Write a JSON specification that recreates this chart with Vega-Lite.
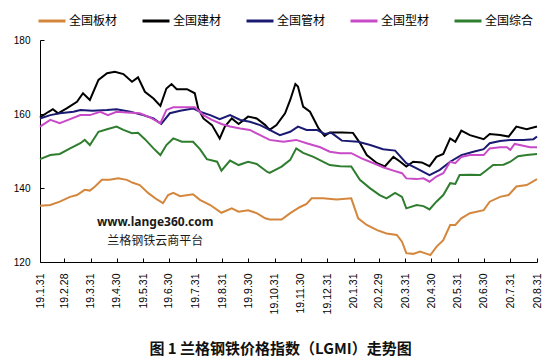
{
"$schema": "https://vega.github.io/schema/vega-lite/v6.json",
"width": 497, "height": 222,
"autosize": {"type": "none"},
"padding": {"left": 40, "top": 40, "right": 22, "bottom": 99},
"background": "white",
"config": {"view": {"stroke": null}, "font": "Noto Sans CJK SC"},
"title": {"text": "图 1 兰格钢铁价格指数（LGMI）走势图", "orient": "bottom", "anchor": "middle", "fontSize": 15, "fontWeight": "bold", "font": "Noto Sans CJK SC", "color": "#111111", "offset": 28, "dx": -8},
"datasets": {
"wm": [{"d": "2019-06-14", "v": 130.8, "t": "www.lange360.com"}, {"d": "2019-06-14", "v": 125.7, "t": "兰格钢铁云商平台"}],
"main": [
{"s":"全国板材","d":"2019-01-31","v":135.2},{"s":"全国板材","d":"2019-02-12","v":135.4},{"s":"全国板材","d":"2019-02-23","v":136.3},{"s":"全国板材","d":"2019-03-07","v":137.6},{"s":"全国板材","d":"2019-03-15","v":138.1},{"s":"全国板材","d":"2019-03-24","v":139.5},{"s":"全国板材","d":"2019-03-30","v":139.3},{"s":"全国板材","d":"2019-04-05","v":140.4},{"s":"全国板材","d":"2019-04-13","v":142.2},{"s":"全国板材","d":"2019-04-22","v":142.2},{"s":"全国板材","d":"2019-05-02","v":142.6},{"s":"全国板材","d":"2019-05-12","v":142.2},{"s":"全国板材","d":"2019-05-19","v":141.4},{"s":"全国板材","d":"2019-05-27","v":140.8},{"s":"全国板材","d":"2019-06-06","v":138.6},{"s":"全国板材","d":"2019-06-16","v":136.9},{"s":"全国板材","d":"2019-06-23","v":135.9},{"s":"全国板材","d":"2019-06-29","v":138.1},{"s":"全国板材","d":"2019-07-05","v":138.7},{"s":"全国板材","d":"2019-07-13","v":137.8},{"s":"全国板材","d":"2019-07-28","v":138.3},{"s":"全国板材","d":"2019-08-05","v":136.8},{"s":"全国板材","d":"2019-08-17","v":135.4},{"s":"全国板材","d":"2019-08-30","v":133.3},{"s":"全国板材","d":"2019-09-11","v":134.5},{"s":"全国板材","d":"2019-09-19","v":133.6},{"s":"全国板材","d":"2019-09-30","v":134.0},{"s":"全国板材","d":"2019-10-10","v":133.2},{"s":"全国板材","d":"2019-10-20","v":131.8},{"s":"全国板材","d":"2019-10-25","v":131.5},{"s":"全国板材","d":"2019-11-08","v":131.5},{"s":"全国板材","d":"2019-11-18","v":133.2},{"s":"全国板材","d":"2019-11-29","v":134.8},{"s":"全国板材","d":"2019-12-07","v":135.7},{"s":"全国板材","d":"2019-12-13","v":137.2},{"s":"全国板材","d":"2019-12-26","v":137.2},{"s":"全国板材","d":"2020-01-11","v":136.9},{"s":"全国板材","d":"2020-01-28","v":137.2},{"s":"全国板材","d":"2020-02-05","v":131.8},{"s":"全国板材","d":"2020-02-15","v":130.0},{"s":"全国板材","d":"2020-02-27","v":128.6},{"s":"全国板材","d":"2020-03-09","v":127.7},{"s":"全国板材","d":"2020-03-21","v":127.3},{"s":"全国板材","d":"2020-03-27","v":125.5},{"s":"全国板材","d":"2020-04-01","v":122.4},{"s":"全国板材","d":"2020-04-09","v":122.2},{"s":"全国板材","d":"2020-04-17","v":122.8},{"s":"全国板材","d":"2020-04-25","v":122.2},{"s":"全国板材","d":"2020-04-29","v":121.9},{"s":"全国板材","d":"2020-05-06","v":124.1},{"s":"全国板材","d":"2020-05-14","v":125.9},{"s":"全国板材","d":"2020-05-22","v":130.0},{"s":"全国板材","d":"2020-05-28","v":130.0},{"s":"全国板材","d":"2020-06-04","v":131.8},{"s":"全国板材","d":"2020-06-14","v":133.2},{"s":"全国板材","d":"2020-06-30","v":134.0},{"s":"全国板材","d":"2020-07-07","v":136.3},{"s":"全国板材","d":"2020-07-19","v":137.6},{"s":"全国板材","d":"2020-07-29","v":138.1},{"s":"全国板材","d":"2020-08-07","v":140.4},{"s":"全国板材","d":"2020-08-19","v":140.8},{"s":"全国板材","d":"2020-08-31","v":142.4},
{"s":"全国建材","d":"2019-01-31","v":159.1},{"s":"全国建材","d":"2019-02-10","v":160.6},{"s":"全国建材","d":"2019-02-15","v":161.3},{"s":"全国建材","d":"2019-02-21","v":160.2},{"s":"全国建材","d":"2019-03-03","v":161.5},{"s":"全国建材","d":"2019-03-15","v":163.3},{"s":"全国建材","d":"2019-03-22","v":165.6},{"s":"全国建材","d":"2019-03-30","v":163.8},{"s":"全国建材","d":"2019-04-09","v":169.2},{"s":"全国建材","d":"2019-04-19","v":171.0},{"s":"全国建材","d":"2019-04-28","v":171.4},{"s":"全国建材","d":"2019-05-08","v":170.8},{"s":"全国建材","d":"2019-05-18","v":168.7},{"s":"全国建材","d":"2019-05-25","v":169.9},{"s":"全国建材","d":"2019-06-02","v":166.0},{"s":"全国建材","d":"2019-06-12","v":164.2},{"s":"全国建材","d":"2019-06-20","v":162.2},{"s":"全国建材","d":"2019-06-27","v":166.9},{"s":"全国建材","d":"2019-07-03","v":168.1},{"s":"全国建材","d":"2019-07-09","v":166.7},{"s":"全国建材","d":"2019-07-21","v":166.7},{"s":"全国建材","d":"2019-07-30","v":165.6},{"s":"全国建材","d":"2019-08-03","v":161.5},{"s":"全国建材","d":"2019-08-09","v":158.8},{"s":"全国建材","d":"2019-08-19","v":157.0},{"s":"全国建材","d":"2019-08-28","v":153.4},{"s":"全国建材","d":"2019-09-03","v":156.6},{"s":"全国建材","d":"2019-09-11","v":158.8},{"s":"全国建材","d":"2019-09-19","v":157.3},{"s":"全国建材","d":"2019-09-30","v":159.3},{"s":"全国建材","d":"2019-10-10","v":158.8},{"s":"全国建材","d":"2019-10-20","v":157.0},{"s":"全国建材","d":"2019-10-25","v":155.7},{"s":"全国建材","d":"2019-11-02","v":157.0},{"s":"全国建材","d":"2019-11-12","v":160.2},{"s":"全国建材","d":"2019-11-18","v":163.8},{"s":"全国建材","d":"2019-11-24","v":168.1},{"s":"全国建材","d":"2019-11-27","v":167.4},{"s":"全国建材","d":"2019-12-03","v":162.0},{"s":"全国建材","d":"2019-12-11","v":160.6},{"s":"全国建材","d":"2019-12-21","v":156.1},{"s":"全国建材","d":"2019-12-28","v":154.1},{"s":"全国建材","d":"2020-01-03","v":155.0},{"s":"全国建材","d":"2020-01-17","v":155.0},{"s":"全国建材","d":"2020-01-30","v":154.9},{"s":"全国建材","d":"2020-02-07","v":152.2},{"s":"全国建材","d":"2020-02-15","v":148.9},{"s":"全国建材","d":"2020-02-27","v":146.7},{"s":"全国建材","d":"2020-03-07","v":145.8},{"s":"全国建材","d":"2020-03-17","v":148.4},{"s":"全国建材","d":"2020-03-25","v":147.1},{"s":"全国建材","d":"2020-04-01","v":145.8},{"s":"全国建材","d":"2020-04-09","v":147.1},{"s":"全国建材","d":"2020-04-19","v":146.9},{"s":"全国建材","d":"2020-04-28","v":145.9},{"s":"全国建材","d":"2020-05-06","v":148.4},{"s":"全国建材","d":"2020-05-14","v":149.2},{"s":"全国建材","d":"2020-05-22","v":153.4},{"s":"全国建材","d":"2020-05-28","v":152.5},{"s":"全国建材","d":"2020-06-04","v":155.5},{"s":"全国建材","d":"2020-06-14","v":154.3},{"s":"全国建材","d":"2020-06-30","v":153.2},{"s":"全国建材","d":"2020-07-07","v":154.6},{"s":"全国建材","d":"2020-07-19","v":154.3},{"s":"全国建材","d":"2020-07-29","v":153.9},{"s":"全国建材","d":"2020-08-07","v":156.6},{"s":"全国建材","d":"2020-08-19","v":155.9},{"s":"全国建材","d":"2020-08-31","v":156.6},
{"s":"全国管材","d":"2019-01-31","v":158.8},{"s":"全国管材","d":"2019-02-12","v":159.7},{"s":"全国管材","d":"2019-02-23","v":160.2},{"s":"全国管材","d":"2019-03-11","v":160.6},{"s":"全国管材","d":"2019-03-19","v":161.1},{"s":"全国管材","d":"2019-04-02","v":160.9},{"s":"全国管材","d":"2019-04-19","v":161.1},{"s":"全国管材","d":"2019-04-30","v":161.3},{"s":"全国管材","d":"2019-05-16","v":160.6},{"s":"全国管材","d":"2019-05-31","v":159.7},{"s":"全国管材","d":"2019-06-12","v":158.8},{"s":"全国管材","d":"2019-06-21","v":157.3},{"s":"全国管材","d":"2019-07-01","v":160.2},{"s":"全国管材","d":"2019-07-13","v":160.9},{"s":"全国管材","d":"2019-07-28","v":161.5},{"s":"全国管材","d":"2019-08-05","v":160.6},{"s":"全国管材","d":"2019-08-17","v":159.7},{"s":"全国管材","d":"2019-08-28","v":158.6},{"s":"全国管材","d":"2019-09-09","v":159.7},{"s":"全国管材","d":"2019-09-21","v":158.4},{"s":"全国管材","d":"2019-10-02","v":157.9},{"s":"全国管材","d":"2019-10-14","v":157.0},{"s":"全国管材","d":"2019-10-25","v":155.7},{"s":"全国管材","d":"2019-11-06","v":154.3},{"s":"全国管材","d":"2019-11-18","v":155.2},{"s":"全国管材","d":"2019-11-27","v":156.6},{"s":"全国管材","d":"2019-12-07","v":155.7},{"s":"全国管材","d":"2019-12-19","v":155.7},{"s":"全国管材","d":"2019-12-28","v":154.6},{"s":"全国管材","d":"2020-01-05","v":154.9},{"s":"全国管材","d":"2020-01-17","v":152.8},{"s":"全国管材","d":"2020-02-05","v":152.5},{"s":"全国管材","d":"2020-02-19","v":151.6},{"s":"全国管材","d":"2020-03-05","v":150.5},{"s":"全国管材","d":"2020-03-19","v":150.1},{"s":"全国管材","d":"2020-04-01","v":146.7},{"s":"全国管材","d":"2020-04-13","v":145.3},{"s":"全国管材","d":"2020-04-28","v":143.5},{"s":"全国管材","d":"2020-05-10","v":144.9},{"s":"全国管材","d":"2020-05-22","v":147.1},{"s":"全国管材","d":"2020-06-04","v":148.9},{"s":"全国管材","d":"2020-06-18","v":149.8},{"s":"全国管材","d":"2020-06-30","v":150.5},{"s":"全国管材","d":"2020-07-07","v":152.1},{"s":"全国管材","d":"2020-07-19","v":152.7},{"s":"全国管材","d":"2020-07-31","v":153.0},{"s":"全国管材","d":"2020-08-15","v":153.0},{"s":"全国管材","d":"2020-08-27","v":153.2},{"s":"全国管材","d":"2020-08-31","v":153.9},
{"s":"全国型材","d":"2019-01-31","v":156.6},{"s":"全国型材","d":"2019-02-12","v":158.4},{"s":"全国型材","d":"2019-02-23","v":157.5},{"s":"全国型材","d":"2019-03-07","v":158.6},{"s":"全国型材","d":"2019-03-19","v":159.7},{"s":"全国型材","d":"2019-03-30","v":159.7},{"s":"全国型材","d":"2019-04-11","v":160.6},{"s":"全国型材","d":"2019-04-20","v":159.7},{"s":"全国型材","d":"2019-04-30","v":160.6},{"s":"全国型材","d":"2019-05-12","v":160.4},{"s":"全国型材","d":"2019-05-27","v":160.2},{"s":"全国型材","d":"2019-06-08","v":159.1},{"s":"全国型材","d":"2019-06-20","v":157.5},{"s":"全国型材","d":"2019-06-27","v":161.1},{"s":"全国型材","d":"2019-07-05","v":161.8},{"s":"全国型材","d":"2019-07-17","v":161.8},{"s":"全国型材","d":"2019-07-30","v":161.8},{"s":"全国型材","d":"2019-08-09","v":159.7},{"s":"全国型材","d":"2019-08-19","v":158.4},{"s":"全国型材","d":"2019-08-30","v":157.3},{"s":"全国型材","d":"2019-09-09","v":156.6},{"s":"全国型材","d":"2019-09-21","v":156.1},{"s":"全国型材","d":"2019-10-02","v":155.7},{"s":"全国型材","d":"2019-10-14","v":154.3},{"s":"全国型材","d":"2019-10-25","v":153.0},{"s":"全国型材","d":"2019-11-10","v":152.5},{"s":"全国型材","d":"2019-11-25","v":153.0},{"s":"全国型材","d":"2019-12-07","v":152.1},{"s":"全国型材","d":"2019-12-23","v":151.0},{"s":"全国型材","d":"2020-01-03","v":149.8},{"s":"全国型材","d":"2020-01-15","v":149.4},{"s":"全国型材","d":"2020-01-28","v":149.4},{"s":"全国型材","d":"2020-02-09","v":148.0},{"s":"全国型材","d":"2020-02-23","v":146.7},{"s":"全国型材","d":"2020-03-05","v":145.6},{"s":"全国型材","d":"2020-03-17","v":144.7},{"s":"全国型材","d":"2020-03-27","v":144.0},{"s":"全国型材","d":"2020-04-01","v":142.6},{"s":"全国型材","d":"2020-04-13","v":142.4},{"s":"全国型材","d":"2020-04-21","v":142.6},{"s":"全国型材","d":"2020-04-28","v":141.7},{"s":"全国型材","d":"2020-05-06","v":143.1},{"s":"全国型材","d":"2020-05-14","v":144.0},{"s":"全国型材","d":"2020-05-22","v":147.1},{"s":"全国型材","d":"2020-05-28","v":146.7},{"s":"全国型材","d":"2020-06-04","v":148.4},{"s":"全国型材","d":"2020-06-14","v":148.9},{"s":"全国型材","d":"2020-06-30","v":148.9},{"s":"全国型材","d":"2020-07-07","v":150.7},{"s":"全国型材","d":"2020-07-19","v":151.0},{"s":"全国型材","d":"2020-07-27","v":151.0},{"s":"全国型材","d":"2020-07-31","v":150.3},{"s":"全国型材","d":"2020-08-05","v":151.9},{"s":"全国型材","d":"2020-08-15","v":151.4},{"s":"全国型材","d":"2020-08-23","v":151.0},{"s":"全国型材","d":"2020-08-31","v":151.0},
{"s":"全国综合","d":"2019-01-31","v":147.8},{"s":"全国综合","d":"2019-02-12","v":148.9},{"s":"全国综合","d":"2019-02-23","v":149.2},{"s":"全国综合","d":"2019-03-07","v":150.7},{"s":"全国综合","d":"2019-03-19","v":152.1},{"s":"全国综合","d":"2019-03-24","v":153.0},{"s":"全国综合","d":"2019-03-30","v":151.6},{"s":"全国综合","d":"2019-04-09","v":155.2},{"s":"全国综合","d":"2019-04-19","v":155.9},{"s":"全国综合","d":"2019-04-30","v":156.6},{"s":"全国综合","d":"2019-05-08","v":155.7},{"s":"全国综合","d":"2019-05-18","v":154.8},{"s":"全国综合","d":"2019-05-25","v":154.9},{"s":"全国综合","d":"2019-06-02","v":153.2},{"s":"全国综合","d":"2019-06-12","v":150.7},{"s":"全国综合","d":"2019-06-20","v":148.9},{"s":"全国综合","d":"2019-06-27","v":151.6},{"s":"全国综合","d":"2019-07-05","v":153.4},{"s":"全国综合","d":"2019-07-15","v":152.5},{"s":"全国综合","d":"2019-07-28","v":152.5},{"s":"全国综合","d":"2019-08-05","v":150.5},{"s":"全国综合","d":"2019-08-13","v":147.8},{"s":"全国综合","d":"2019-08-25","v":147.1},{"s":"全国综合","d":"2019-08-30","v":144.7},{"s":"全国综合","d":"2019-09-09","v":147.4},{"s":"全国综合","d":"2019-09-19","v":146.2},{"s":"全国综合","d":"2019-09-30","v":147.1},{"s":"全国综合","d":"2019-10-10","v":146.5},{"s":"全国综合","d":"2019-10-22","v":144.4},{"s":"全国综合","d":"2019-10-25","v":144.1},{"s":"全国综合","d":"2019-11-08","v":145.8},{"s":"全国综合","d":"2019-11-18","v":147.6},{"s":"全国综合","d":"2019-11-25","v":150.7},{"s":"全国综合","d":"2019-12-03","v":149.5},{"s":"全国综合","d":"2019-12-15","v":148.4},{"s":"全国综合","d":"2019-12-26","v":147.1},{"s":"全国综合","d":"2020-01-03","v":146.2},{"s":"全国综合","d":"2020-01-15","v":145.9},{"s":"全国综合","d":"2020-01-28","v":145.8},{"s":"全国综合","d":"2020-02-07","v":142.2},{"s":"全国综合","d":"2020-02-19","v":139.9},{"s":"全国综合","d":"2020-03-01","v":138.1},{"s":"全国综合","d":"2020-03-09","v":137.2},{"s":"全国综合","d":"2020-03-19","v":138.7},{"s":"全国综合","d":"2020-03-27","v":137.6},{"s":"全国综合","d":"2020-04-01","v":134.5},{"s":"全国综合","d":"2020-04-13","v":135.4},{"s":"全国综合","d":"2020-04-21","v":135.1},{"s":"全国综合","d":"2020-04-28","v":134.2},{"s":"全国综合","d":"2020-05-06","v":136.3},{"s":"全国综合","d":"2020-05-14","v":138.1},{"s":"全国综合","d":"2020-05-22","v":141.3},{"s":"全国综合","d":"2020-05-28","v":141.1},{"s":"全国综合","d":"2020-06-02","v":143.5},{"s":"全国综合","d":"2020-06-14","v":143.6},{"s":"全国综合","d":"2020-06-26","v":143.5},{"s":"全国综合","d":"2020-07-01","v":144.4},{"s":"全国综合","d":"2020-07-11","v":146.2},{"s":"全国综合","d":"2020-07-23","v":146.3},{"s":"全国综合","d":"2020-07-31","v":147.1},{"s":"全国综合","d":"2020-08-09","v":148.6},{"s":"全国综合","d":"2020-08-19","v":148.9},{"s":"全国综合","d":"2020-08-31","v":149.2}
]
},
"encoding": {
"x": {"field": "d", "type": "temporal",
 "scale": {"type": "utc", "domain": [{"year": 2019, "month": 1, "date": 31, "utc": true}, {"year": 2020, "month": 8, "date": 31, "utc": true}], "nice": false},
 "axis": {"title": null, "grid": false, "labelExpr": "utcFormat(datum.value, '%y.%-m.%-d')", "labelAngle": 270, "labelFontSize": 10.5, "labelFont": "Liberation Sans", "labelColor": "#000000", "tickSize": -4, "labelPadding": 15, "domainColor": "#000000", "tickColor": "#000000", "labelOverlap": false, "labelFlush": false, "labelBound": false,
  "values": [{"year":2019,"month":1,"date":31,"utc":true},{"year":2019,"month":2,"date":28,"utc":true},{"year":2019,"month":3,"date":31,"utc":true},{"year":2019,"month":4,"date":30,"utc":true},{"year":2019,"month":5,"date":31,"utc":true},{"year":2019,"month":6,"date":30,"utc":true},{"year":2019,"month":7,"date":31,"utc":true},{"year":2019,"month":8,"date":31,"utc":true},{"year":2019,"month":9,"date":30,"utc":true},{"year":2019,"month":10,"date":31,"utc":true},{"year":2019,"month":11,"date":30,"utc":true},{"year":2019,"month":12,"date":31,"utc":true},{"year":2020,"month":1,"date":31,"utc":true},{"year":2020,"month":2,"date":29,"utc":true},{"year":2020,"month":3,"date":31,"utc":true},{"year":2020,"month":4,"date":30,"utc":true},{"year":2020,"month":5,"date":31,"utc":true},{"year":2020,"month":6,"date":30,"utc":true},{"year":2020,"month":7,"date":31,"utc":true},{"year":2020,"month":8,"date":31,"utc":true}]}},
"y": {"field": "v", "type": "quantitative",
 "scale": {"domain": [120, 180], "nice": false, "zero": false},
 "axis": {"title": null, "grid": false, "values": [120, 140, 160, 180], "labelFontSize": 10, "labelFont": "Liberation Sans", "labelColor": "#000000", "tickSize": -4, "labelPadding": 14, "domainColor": "#000000", "tickColor": "#000000"}}
},
"layer": [
{
"data": {"name": "main"},
"mark": {"type": "line", "strokeWidth": 2},
"encoding": {
"color": {"field": "s", "type": "nominal",
 "scale": {"domain": ["全国板材", "全国建材", "全国管材", "全国型材", "全国综合"], "range": ["#D4873C", "#000000", "#1a1a72", "#C84AC8", "#2f7d2f"]},
 "legend": {"orient": "none", "legendX": -3, "legendY": -34, "direction": "horizontal", "title": null, "symbolType": "stroke", "symbolSize": 729, "symbolStrokeWidth": 3, "labelFontSize": 12, "labelFont": "Noto Sans CJK SC", "labelColor": "#000000", "labelOffset": 2, "columnPadding": 18, "padding": 0}}
}
},
{
"data": {"name": "wm"},
"transform": [{"filter": "datum.v > 128"}],
"mark": {"type": "text", "font": "Noto Sans", "fontSize": 12, "fontWeight": "bold", "color": "#1a1a1a"},
"encoding": {"text": {"field": "t"}}
},
{
"data": {"name": "wm"},
"transform": [{"filter": "datum.v < 128"}],
"mark": {"type": "text", "font": "Noto Sans CJK SC", "fontSize": 12, "color": "#1a1a1a"},
"encoding": {"text": {"field": "t"}}
}
]
}
